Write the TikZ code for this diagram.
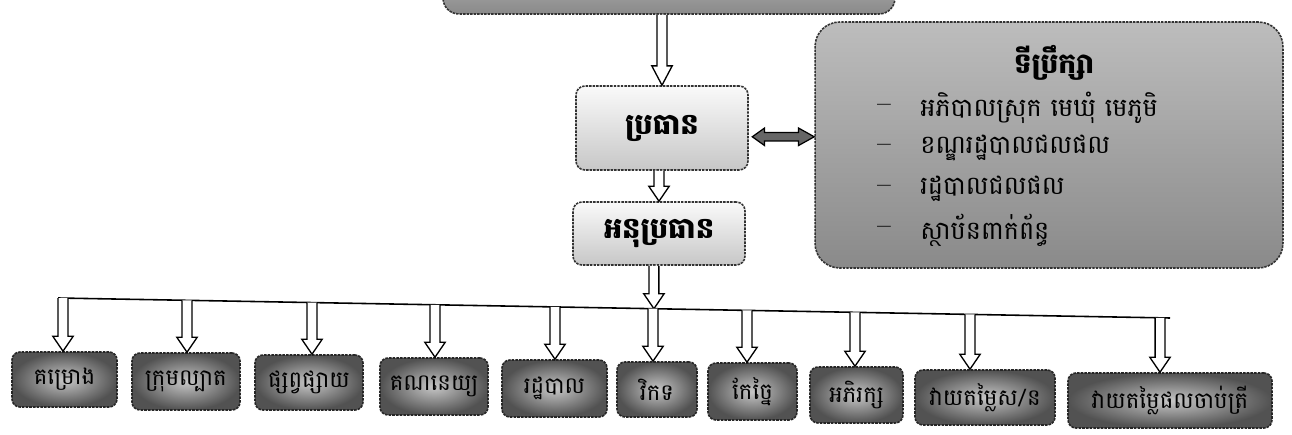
\documentclass[tikz,border=0pt]{standalone}
\usepackage{fontspec}
\newfontfamily\khmer[Script=Khmer]{Battambang}
\usetikzlibrary{calc}
\newcommand\hollowarr[3][8.5pt]{%
  \filldraw[harrow] let \p1=(#2), \p2=(#3) in
    (\x2-2.8pt,\y1) -- (\x2-2.8pt,\y2+#1) -- (\x2-5.8pt,\y2+#1) -- (\x2,\y2)
    -- (\x2+5.8pt,\y2+#1) -- (\x2+2.8pt,\y2+#1) -- (\x2+2.8pt,\y1);}
\begin{document}
\begin{tikzpicture}[x=0.02cm,y=-0.02cm,
  harrow/.style={draw=black, fill=white, line width=0.75pt, line join=miter},
  darrow/.style={draw=black, fill=black!60, line width=0.7pt, line join=miter},
  lightbox/.style={rectangle, rounded corners=5pt, draw=black!80, line width=0.9pt,
    dash pattern=on 1.4pt off 0.6pt, top color=black!2, bottom color=black!22,
    inner sep=0pt, font=\khmer\bfseries\fontsize{16.5}{18}\selectfont},
  greybox/.style={rectangle, draw=black!80, line width=0.9pt,
    dash pattern=on 1.4pt off 0.6pt, top color=black!26, middle color=black!12,
    bottom color=black!46, inner sep=0pt},
  bbox/.style={rectangle, rounded corners=4.5pt, draw=black!85, line width=0.9pt,
    dash pattern=on 1.5pt off 0.6pt, inner color=black!22, outer color=black!68,
    inner sep=0pt, font=\khmer\fontsize{13}{15}\selectfont},
  advline/.style={anchor=west, inner sep=0pt, font=\khmer\fontsize{14.5}{16}\selectfont},
  dashn/.style={inner sep=0pt, font=\bfseries\fontsize{14}{16}\selectfont},
  bus/.style={draw=black, line width=0.9pt}
]
\useasboundingbox (0,0) rectangle (1292,435);
\fill[white] (0,0) rectangle (1292,435);

% top (cut-off) box
\node[greybox, rounded corners=9pt, minimum width=9.04cm, minimum height=1.2cm] (head) at (669,-16) {};

% president / vice
\node[lightbox, minimum width=3.44cm, minimum height=1.68cm] (pres) at (662,128) {ប្រធាន};
\node[lightbox, minimum width=3.44cm, minimum height=1.26cm] (vice) at (659,233.5) {អនុប្រធាន};

% advisors
\node[greybox, rounded corners=14pt, minimum width=9.36cm, minimum height=4.92cm] (adv) at (1049,145) {};
\node[inner sep=0pt, font=\khmer\bfseries\fontsize{16}{18}\selectfont] (advt) at (1054,63) {ទីប្រឹក្សា};
\node[dashn] (d1) at (884,108) {–};
\node[dashn] (d2) at (884,148) {–};
\node[dashn] (d3) at (884,189) {–};
\node[dashn] (d4) at (884,230) {–};
\node[advline] (l1) at (920,108) {អភិបាលស្រុក មេឃុំ មេភូមិ};
\node[advline] (l2) at (920,148) {ខណ្ឌរដ្ឋបាលជលផល};
\node[advline] (l3) at (920,189) {រដ្ឋបាលជលផល};
\node[advline] (l4) at (920,230) {ស្ថាប័នពាក់ព័ន្ធ};

% bottom boxes
\node[bbox, minimum width=2.10cm, minimum height=1.10cm] (b1) at (64.5,379.5) {គម្រោង};
\node[bbox, minimum width=2.16cm, minimum height=1.14cm] (b2) at (186,381.5) {ក្រុមល្បាត};
\node[bbox, minimum width=2.16cm, minimum height=1.10cm] (b3) at (309,382.5) {ផ្សព្វផ្សាយ};
\node[bbox, minimum width=2.16cm, minimum height=1.14cm] (b4) at (434,386.5) {គណនេយ្យ};
\node[bbox, minimum width=2.10cm, minimum height=1.14cm] (b5) at (554.5,388.5) {រដ្ឋបាល};
\node[bbox, minimum width=1.60cm, minimum height=1.10cm] (b6) at (657,389.5) {វិកទ};
\node[bbox, minimum width=1.78cm, minimum height=1.14cm] (b7) at (752.5,391.5) {កែច្នៃ};
\node[bbox, minimum width=1.86cm, minimum height=1.12cm] (b8) at (856.5,395) {អភិរក្ស};
\node[bbox, minimum width=2.80cm, minimum height=1.10cm] (b9) at (985,397.5) {វាយតម្លៃស/ន};
\node[bbox, minimum width=4.08cm, minimum height=1.10cm] (b10) at (1170,400.5) {វាយតម្លៃផលចាប់ត្រី};

% arrow targets on box tops
\coordinate (t1) at ($(b1.north)+(-1.5,0)$);
\coordinate (t2) at ($(b2.north)+(1,0)$);
\coordinate (t3) at ($(b3.north)+(3,0)$);
\coordinate (t4) at ($(b4.north)+(1,0)$);
\coordinate (t5) at ($(b5.north)+(0.5,0)$);
\coordinate (t6) at ($(b6.north)+(-4,0)$);
\coordinate (t7) at ($(b7.north)+(-5.5,0)$);
\coordinate (t8) at ($(b8.north)+(-1.5,0)$);
\coordinate (t9) at ($(b9.north)+(-15,0)$);
\coordinate (t10) at ($(b10.north)+(-10,0)$);

% bus line
\coordinate (busL) at (58,298);
\coordinate (busR) at (1170,318);
\draw[bus] (busL) -- (busR);
\foreach \i in {1,...,10} {\coordinate (s\i) at ($(busL)!(t\i)!(busR)$);}

% connectors
\hollowarr[11pt]{head.south}{pres.north}
\hollowarr{pres.south}{vice.north}
\hollowarr{vice.south}{s6}
\foreach \i in {1,...,10} {\hollowarr{s\i}{t\i}}

\filldraw[darrow] let \p1=(pres.east), \p2=(adv.west) in
  (\x1+2pt,\y1-5pt) -- (\x1+9pt,\y1) -- (\x1+9pt,\y1-2.6pt) -- (\x2-9pt,\y1-2.6pt)
  -- (\x2-9pt,\y1) -- (\x2,\y1-5pt) -- (\x2-9pt,\y1-10pt) -- (\x2-9pt,\y1-7.4pt)
  -- (\x1+9pt,\y1-7.4pt) -- (\x1+9pt,\y1-10pt) -- cycle;
\end{tikzpicture}
\end{document}
